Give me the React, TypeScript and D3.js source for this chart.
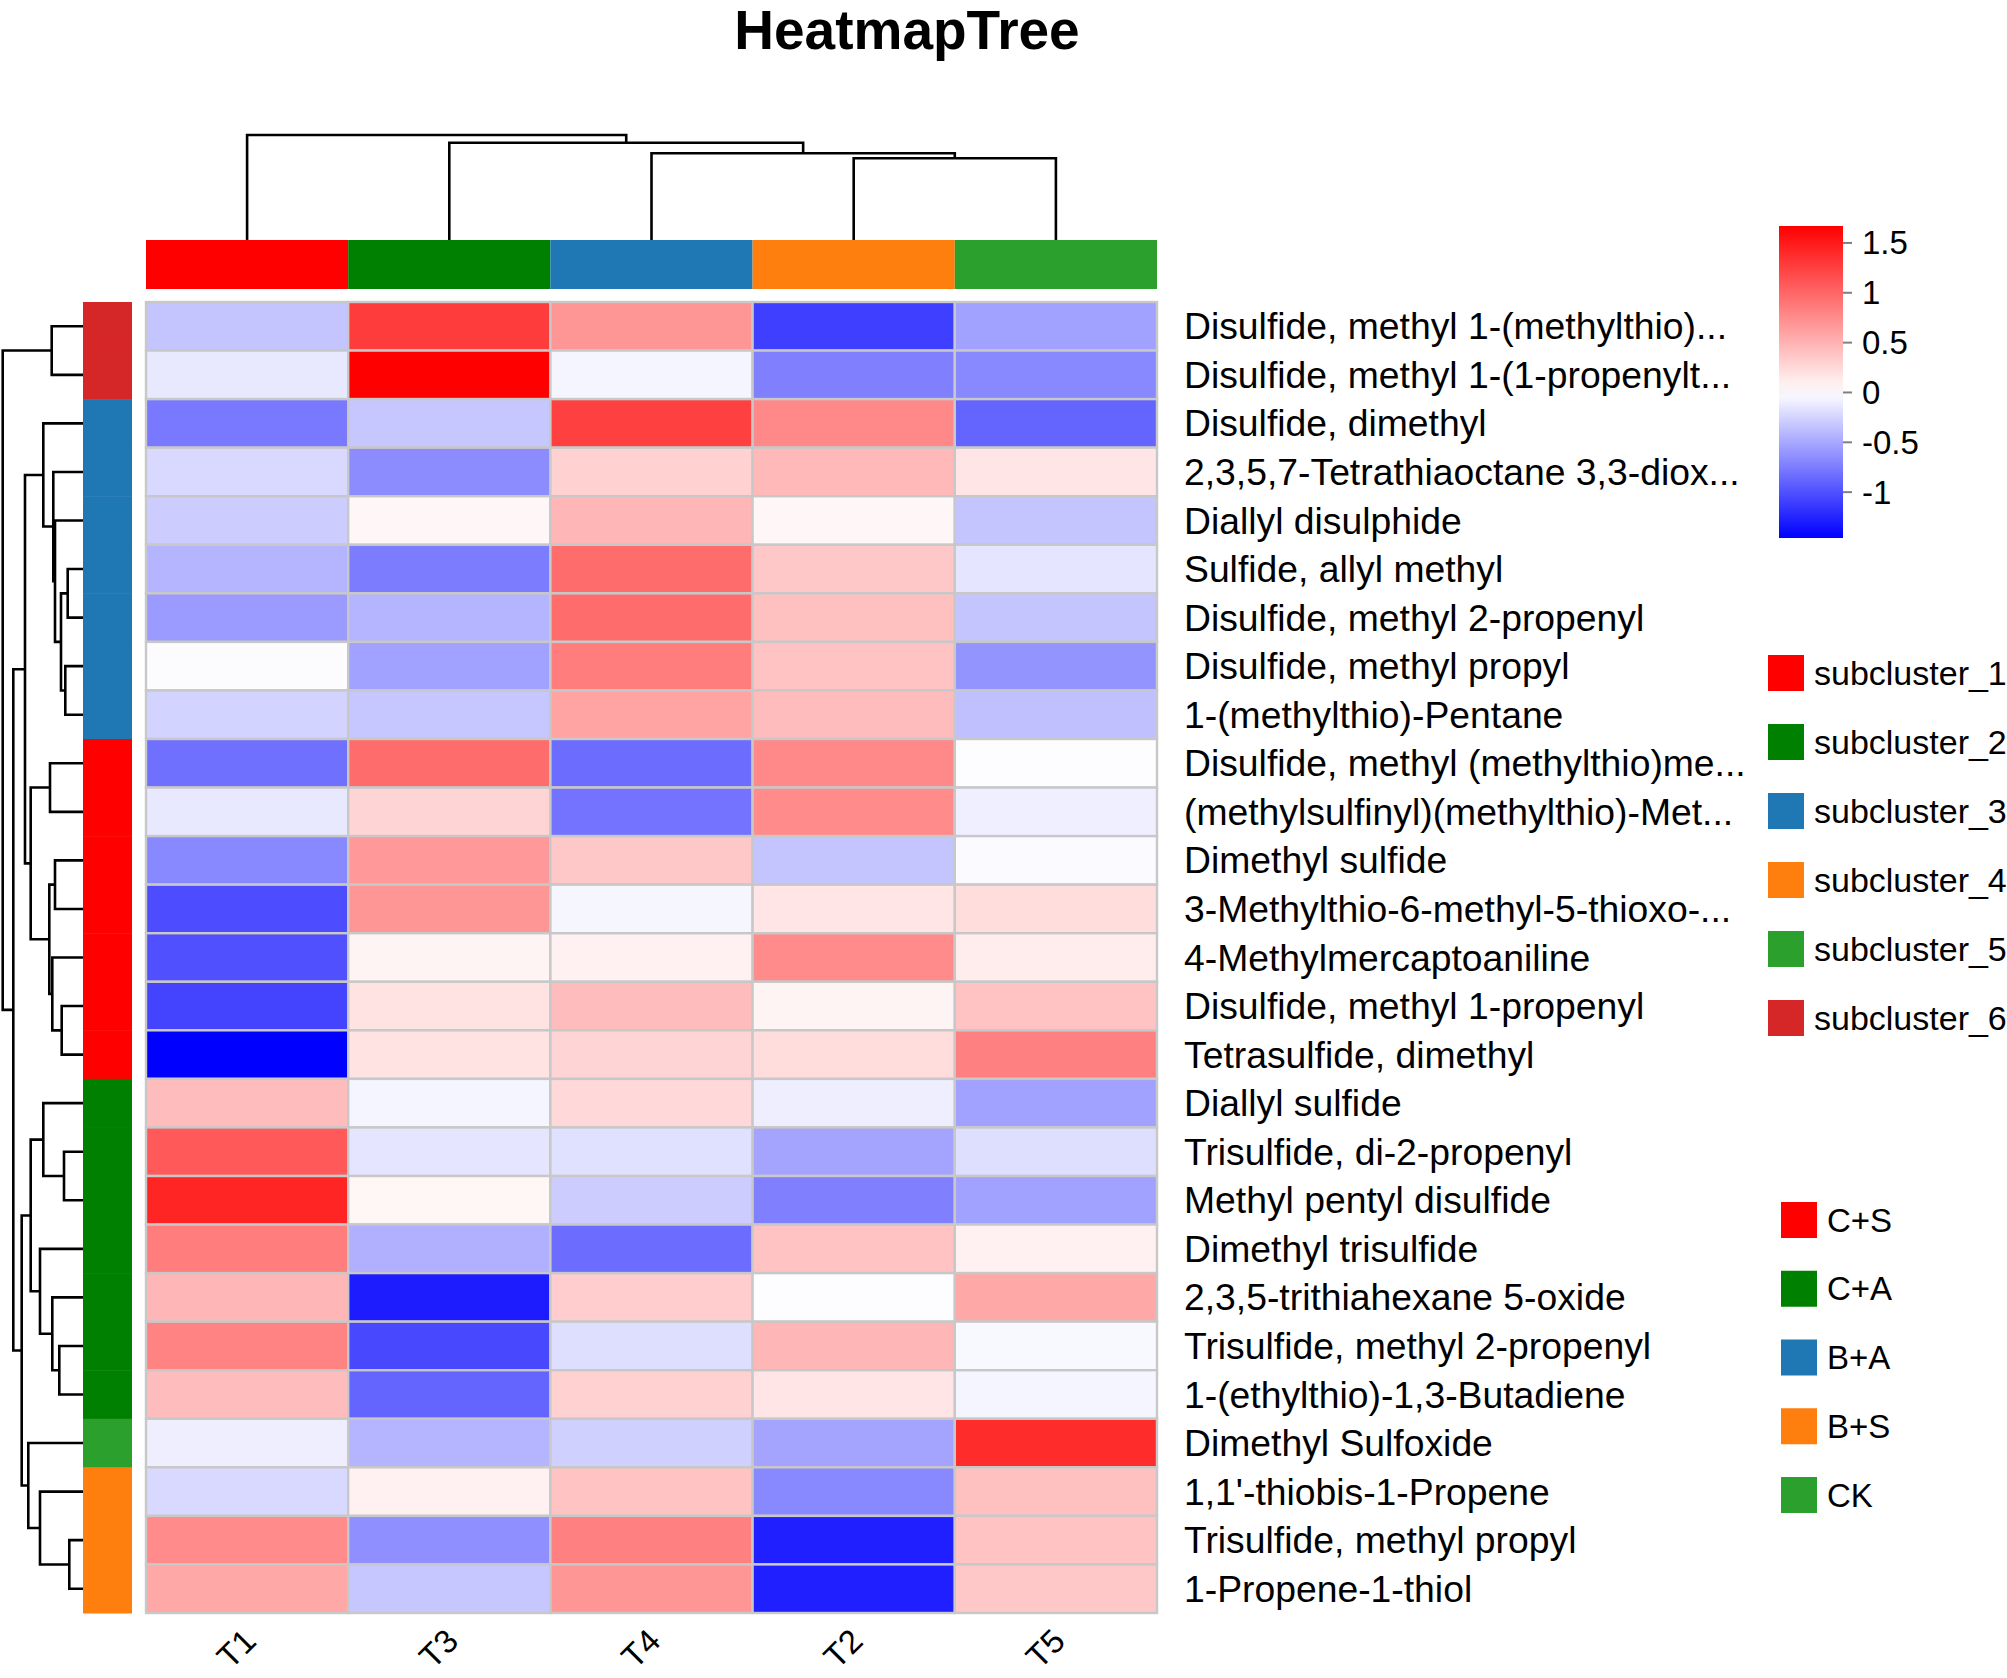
import React from "react";
import * as d3 from "d3";

// ---------------- data ----------------
const chartTitle = "HeatmapTree";

const columns = ["T1", "T3", "T4", "T2", "T5"];
const columnGroup = ["C+S", "C+A", "B+A", "B+S", "CK"];

const groupNames = ["C+S", "C+A", "B+A", "B+S", "CK"];
const groupColors = ["#FF0000", "#008000", "#1F77B4", "#FF7F0E", "#2CA02C"];

const subclusterNames = ["subcluster_1", "subcluster_2", "subcluster_3", "subcluster_4", "subcluster_5", "subcluster_6"];
const subclusterColors = ["#FF0000", "#008000", "#1F77B4", "#FF7F0E", "#2CA02C", "#D62728"];

const rowLabels = [
  "Disulfide, methyl 1-(methylthio)...",
  "Disulfide, methyl 1-(1-propenylt...",
  "Disulfide, dimethyl",
  "2,3,5,7-Tetrathiaoctane 3,3-diox...",
  "Diallyl disulphide",
  "Sulfide, allyl methyl",
  "Disulfide, methyl 2-propenyl",
  "Disulfide, methyl propyl",
  "1-(methylthio)-Pentane",
  "Disulfide, methyl (methylthio)me...",
  "(methylsulfinyl)(methylthio)-Met...",
  "Dimethyl sulfide",
  "3-Methylthio-6-methyl-5-thioxo-...",
  "4-Methylmercaptoaniline",
  "Disulfide, methyl 1-propenyl",
  "Tetrasulfide, dimethyl",
  "Diallyl sulfide",
  "Trisulfide, di-2-propenyl",
  "Methyl pentyl disulfide",
  "Dimethyl trisulfide",
  "2,3,5-trithiahexane 5-oxide",
  "Trisulfide, methyl 2-propenyl",
  "1-(ethylthio)-1,3-Butadiene",
  "Dimethyl Sulfoxide",
  "1,1'-thiobis-1-Propene",
  "Trisulfide, methyl propyl",
  "1-Propene-1-thiol",
];

// subcluster number of each row (1..6)
const rowSubcluster = [6, 6, 3, 3, 3, 3, 3, 3, 3, 1, 1, 1, 1, 1, 1, 1, 2, 2, 2, 2, 2, 2, 2, 5, 4, 4, 4];

// scaled values per column (row order as above)
const valuesT1 = [-0.34, -0.13, -0.77, -0.22, -0.29, -0.43, -0.57, -0.02, -0.25, -0.82, -0.13, -0.68, -1.02, -1.0, -1.07, -1.46, 0.44, 1.09, 1.43, 0.85, 0.48, 0.81, 0.44, -0.1, -0.22, 0.76, 0.57];
const valuesT3 = [1.28, 1.67, -0.32, -0.66, 0.05, -0.75, -0.43, -0.54, -0.32, 0.96, 0.28, 0.67, 0.69, 0.07, 0.19, 0.19, -0.06, -0.15, 0.06, -0.45, -1.3, -1.05, -0.89, -0.43, 0.09, -0.64, -0.32];
const valuesT4 = [0.69, -0.06, 1.25, 0.3, 0.48, 0.96, 0.96, 0.85, 0.6, -0.84, -0.8, 0.36, -0.05, 0.09, 0.44, 0.28, 0.25, -0.18, -0.29, -0.84, 0.33, -0.19, 0.3, -0.27, 0.39, 0.83, 0.69];
const valuesT2 = [-1.1, -0.73, 0.78, 0.46, 0.05, 0.36, 0.41, 0.39, 0.44, 0.78, 0.76, -0.34, 0.17, 0.76, 0.07, 0.22, -0.1, -0.52, -0.73, 0.39, -0.01, 0.48, 0.17, -0.52, -0.68, -1.28, -1.28];
const valuesT5 = [-0.54, -0.68, -0.89, 0.17, -0.34, -0.15, -0.34, -0.61, -0.36, -0.01, -0.09, -0.03, 0.22, 0.12, 0.39, 0.83, -0.54, -0.19, -0.54, 0.09, 0.57, -0.04, -0.06, 1.38, 0.41, 0.39, 0.36];

const colorMin = -1.46;
const colorMax = 1.67;
const colorTicks = [-1, -0.5, 0, 0.5, 1, 1.5];

// dendrograms: [mergeHeight, left, right]; leaves are row/column indices
type Tree = number | [number, Tree, Tree];
const rowTree: Tree = [80.3,
  [31.3, 0, 1],
  [69.7,
    [58,
      [39.7, 2, [29.7, 3, [28, 4, [22, [15.3, 5, 6], [17.7, 7, 8]]]]],
      [52.3, [33, 9, 10], [33.7, [28, 11, 12], [30.7, 13, [21.3, 14, 15]]]]],
    [61.3,
      [52.3, [39.7, 16, [19, 17, 18]], [43, 19, [30.7, 20, [23.7, 21, 22]]]],
      [54.7, 23, [43, 24, [13.7, 25, 26]]]]]];
const colTree: Tree = [105, 0, [97.3, 1, [86.7, 2, [81.7, 3, 4]]]];

// ---------------- layout ----------------
const W = 2007;
const H = 1678;
const heatLeft = 146, heatRight = 1157, heatTop = 302, heatBottom = 1613;
const FONT = "'Liberation Sans', Arial, Helvetica, sans-serif";

function walk(tree: Tree, leafPos: (i: number) => number, segs: { p: number; h: number }[][]): { p: number; h: number } {
  if (typeof tree === "number") return { p: leafPos(tree), h: 0 };
  const [h, a, b] = tree;
  const ra = walk(a, leafPos, segs);
  const rb = walk(b, leafPos, segs);
  segs.push([ra, { p: ra.p, h }, { p: rb.p, h }, rb]);
  return { p: (ra.p + rb.p) / 2, h };
}

export default function App() {
  const allValues = [valuesT1, valuesT3, valuesT4, valuesT2, valuesT5];
  const rowIdx = rowLabels.map((_, i) => i);

  const x = d3.scaleBand<number>().domain(columns.map((_, i) => i)).range([heatLeft, heatRight]);
  const y = d3.scaleBand<number>().domain(rowIdx).range([heatTop, heatBottom]);
  const color = d3.scaleLinear<string>().domain([colorMin, 0, colorMax]).range(["#0000FF", "#FFFFFF", "#FF0000"]);

  // dendrogram scales
  const rowH = d3.scaleLinear().domain([0, 80.3]).range([83, 2.7]);
  const colH = d3.scaleLinear().domain([0, 105]).range([240, 135]);

  const rowSegs: { p: number; h: number }[][] = [];
  walk(rowTree, (i) => (y(i) as number) + y.bandwidth() / 2, rowSegs);
  const colSegs: { p: number; h: number }[][] = [];
  walk(colTree, (i) => (x(i) as number) + x.bandwidth() / 2, colSegs);

  const rowLine = d3.line<{ p: number; h: number }>().x((d) => rowH(d.h)).y((d) => d.p);
  const colLine = d3.line<{ p: number; h: number }>().x((d) => d.p).y((d) => colH(d.h));

  // color bar
  const barTop = 226, barBottom = 538, barLeft = 1779, barRight = 1843;
  const barY = d3.scaleLinear().domain([colorMin, colorMax]).range([barBottom, barTop]);
  const stops = d3.range(0, 21).map((k) => {
    const v = colorMin + ((colorMax - colorMin) * k) / 20;
    return { off: k / 20, c: color(v) };
  });

  const subLegY = d3.scaleLinear().domain([0, 1]).range([655, 724]);
  const grpLegY = d3.scaleLinear().domain([0, 1]).range([1202, 1270.75]);

  return (
    <svg width={W} height={H} style={{ position: "absolute", left: 0, top: 0, background: "#fff" }} fontFamily={FONT}>
      <defs>
        <linearGradient id="cbar" x1="0" y1="1" x2="0" y2="0">
          {stops.map((s, i) => (
            <stop key={i} offset={s.off} stopColor={s.c} />
          ))}
        </linearGradient>
      </defs>
      <rect x={0} y={0} width={W} height={H} fill="#fff" />

      <text x={907} y={49} textAnchor="middle" fontSize={55} fontWeight="bold" fill="#000">
        {chartTitle}
      </text>

      {/* column dendrogram */}
      <g fill="none" stroke="#000" strokeWidth={2.6}>
        {colSegs.map((s, i) => (
          <path key={i} d={colLine(s) as string} />
        ))}
      </g>

      {/* row dendrogram */}
      <g fill="none" stroke="#000" strokeWidth={2.6}>
        {rowSegs.map((s, i) => (
          <path key={i} d={rowLine(s) as string} />
        ))}
      </g>

      {/* column annotation */}
      {columns.map((c, j) => (
        <rect key={c} x={x(j)} y={240} width={x.bandwidth()} height={49}
          fill={groupColors[groupNames.indexOf(columnGroup[j])]} />
      ))}

      {/* row annotation */}
      {rowIdx.map((i) => (
        <rect key={i} x={83} y={y(i)} width={49} height={y.bandwidth() + 0.5}
          fill={subclusterColors[rowSubcluster[i] - 1]} />
      ))}

      {/* heatmap cells */}
      <g stroke="#C8C8C8" strokeWidth={2.4}>
        {allValues.map((col, j) =>
          col.map((v, i) => (
            <rect key={`${i}-${j}`} x={x(j)} y={y(i)} width={x.bandwidth()} height={y.bandwidth()} fill={color(v)} />
          ))
        )}
      </g>

      {/* row labels */}
      {rowLabels.map((r, i) => (
        <text key={r} x={1184} y={(y(i) as number) + y.bandwidth() / 2} dominantBaseline="central" fontSize={37.3} fill="#000">
          {r}
        </text>
      ))}

      {/* column labels */}
      {columns.map((c, j) => {
        const cx = (x(j) as number) + x.bandwidth() / 2 - 6;
        return (
          <text key={c} transform={`translate(${cx},1626) rotate(-45)`} textAnchor="end" dominantBaseline="hanging" fontSize={33} fill="#000">
            {c}
          </text>
        );
      })}

      {/* color bar legend */}
      <rect x={barLeft} y={barTop} width={barRight - barLeft} height={barBottom - barTop} fill="url(#cbar)" />
      {colorTicks.map((t) => (
        <g key={t}>
          <line x1={barRight} x2={barRight + 9} y1={barY(t)} y2={barY(t)} stroke="#808080" strokeWidth={2} />
          <text x={1862} y={barY(t)} dominantBaseline="central" fontSize={33} fill="#000">
            {t}
          </text>
        </g>
      ))}

      {/* subcluster legend */}
      {subclusterNames.map((n, i) => (
        <g key={n}>
          <rect x={1768} y={subLegY(i)} width={36} height={36} fill={subclusterColors[i]} />
          <text x={1814} y={subLegY(i) + 18} dominantBaseline="central" fontSize={34} fill="#000">
            {n}
          </text>
        </g>
      ))}

      {/* group legend */}
      {groupNames.map((n, i) => (
        <g key={n}>
          <rect x={1781} y={grpLegY(i)} width={36} height={36} fill={groupColors[i]} />
          <text x={1827} y={grpLegY(i) + 18} dominantBaseline="central" fontSize={33} fill="#000">
            {n}
          </text>
        </g>
      ))}
    </svg>
  );
}
